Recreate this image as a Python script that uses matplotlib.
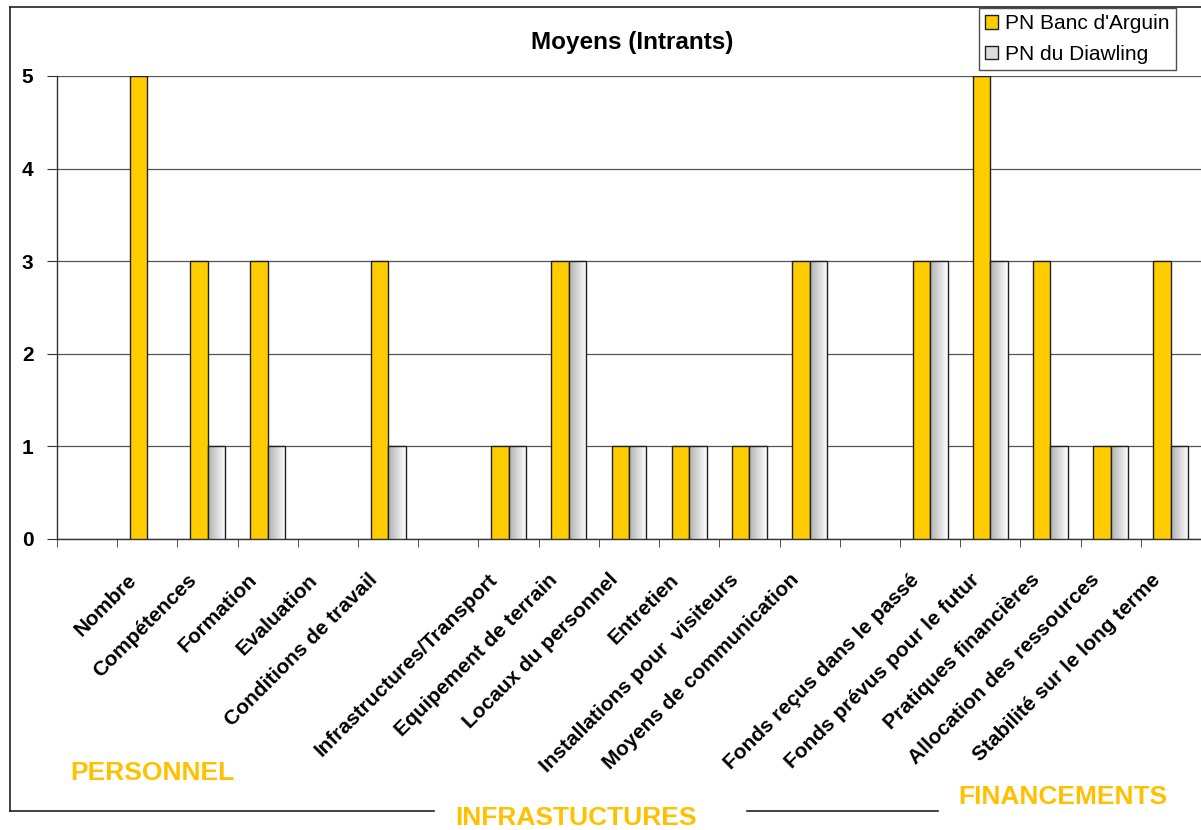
import matplotlib.pyplot as plt
import numpy as np
from matplotlib.lines import Line2D
from matplotlib.patches import Patch
from matplotlib.colors import LinearSegmentedColormap

categories = ["", "Nombre", "Compétences", "Formation", "Evaluation",
              "Conditions de travail", "", "Infrastructures/Transport",
              "Equipement de terrain", "Locaux du personnel", "Entretien",
              "Installations pour  visiteurs", "Moyens de communication", "",
              "Fonds reçus dans le passé", "Fonds prévus pour le futur",
              "Pratiques financières", "Allocation des ressources",
              "Stabilité sur le long terme"]
banc = [0, 5, 3, 3, 0, 3, 0, 1, 3, 1, 1, 1, 3, 0, 3, 5, 3, 1, 3]
diawling = [0, 0, 1, 1, 0, 1, 0, 1, 3, 1, 1, 1, 3, 0, 3, 3, 1, 1, 1]
groups = ["PERSONNEL", "INFRASTUCTURES", "FINANCEMENTS"]
series = ["PN Banc d'Arguin", "PN du Diawling"]

plt.rcParams['font.family'] = ['Liberation Sans', 'DejaVu Sans']

W, H = 1201, 830
fig = plt.figure(figsize=(W / 100, H / 100), dpi=100)
ax = fig.add_axes([57 / W, (H - 539) / H, 1 - 57 / W, (539 - 76) / H])

x = np.arange(len(categories))
bw = 0.29
orange = '#FFCC00'

# zero values are not drawn (no flat outline on the axis)
v1 = np.array(banc, dtype=float)
v1[v1 == 0] = np.nan
v2 = np.array(diawling, dtype=float)
v2[v2 == 0] = np.nan

ax.bar(x - bw, v1, bw, align='edge', color=orange,
       edgecolor='#202020', linewidth=1, zorder=3)

# grey bars with a left-to-right gradient
grad = np.linspace(0, 1, 64).reshape(1, -1)
gcmap = LinearSegmentedColormap.from_list('g', ['#b0b0b0', '#ffffff'])
b2 = ax.bar(x, v2, bw, align='edge', facecolor='none',
            edgecolor='#202020', linewidth=1, zorder=4)
for r in b2:
    h = r.get_height()
    if np.isfinite(h) and h > 0:
        ax.imshow(grad, cmap=gcmap, aspect='auto', zorder=3,
                  extent=[r.get_x(), r.get_x() + r.get_width(), 0, h])

ax.set_xlim(-0.5, len(categories) - 0.5)
ax.set_ylim(0, 5)
ax.set_yticks(range(6))
ax.set_yticklabels([str(v) for v in range(6)], fontsize=15, fontweight='bold')
ax.tick_params(axis='y', length=7, pad=10, color='#333333')
ax.yaxis.grid(True, color='#555555', linewidth=0.9, zorder=0)
ax.set_axisbelow(True)

ax.set_xticks([])
ax.set_xticks(np.arange(len(categories) + 1) - 0.5, minor=True)
ax.tick_params(axis='x', which='minor', length=6, color='#333333')
for i, lab in enumerate(categories):
    if lab:
        ax.text(i - 0.23, -0.41, lab, rotation=45, ha='right', va='center',
                rotation_mode='anchor', fontsize=15, fontweight='bold',
                clip_on=False)

for s in ['top', 'right']:
    ax.spines[s].set_visible(False)
for s in ['left', 'bottom']:
    ax.spines[s].set_color('#333333')
    ax.spines[s].set_linewidth(1)

fig.text(632 / W, 1 - 43 / H, "Moyens (Intrants)", ha='center', va='center',
         fontsize=17.5, fontweight='bold')

# group labels
gcol = '#FFC000'
for lab, gx, gy in zip(groups, [152, 576, 1063], [773, 818, 797]):
    fig.text(gx / W, 1 - gy / H, lab, ha='center', va='center', fontsize=19,
             fontweight='bold', color=gcol)

# outer frame
def fline(xs, ys):
    fig.add_artist(Line2D([v / W for v in xs], [1 - v / H for v in ys],
                          color='#222222', linewidth=1.2))

fline([10, 10], [7, 811])
fline([10, W], [7, 7])
fline([10, 434], [811, 811])
fline([747, 938], [811, 811])

handles = [Patch(facecolor=orange, edgecolor='#202020'),
           Patch(facecolor='#dcdcdc', edgecolor='#202020')]
leg = fig.legend(handles, series, loc='upper left',
                 bbox_to_anchor=(979 / W, 1 - 8 / H), fontsize=15,
                 frameon=True, fancybox=False, borderaxespad=0,
                 handlelength=0.6, handleheight=0.6, handletextpad=0.35,
                 borderpad=0.3, labelspacing=0.55)
leg.get_frame().set_edgecolor('#222222')
leg.get_frame().set_linewidth(1)

fig.savefig('out.png', dpi=100)
